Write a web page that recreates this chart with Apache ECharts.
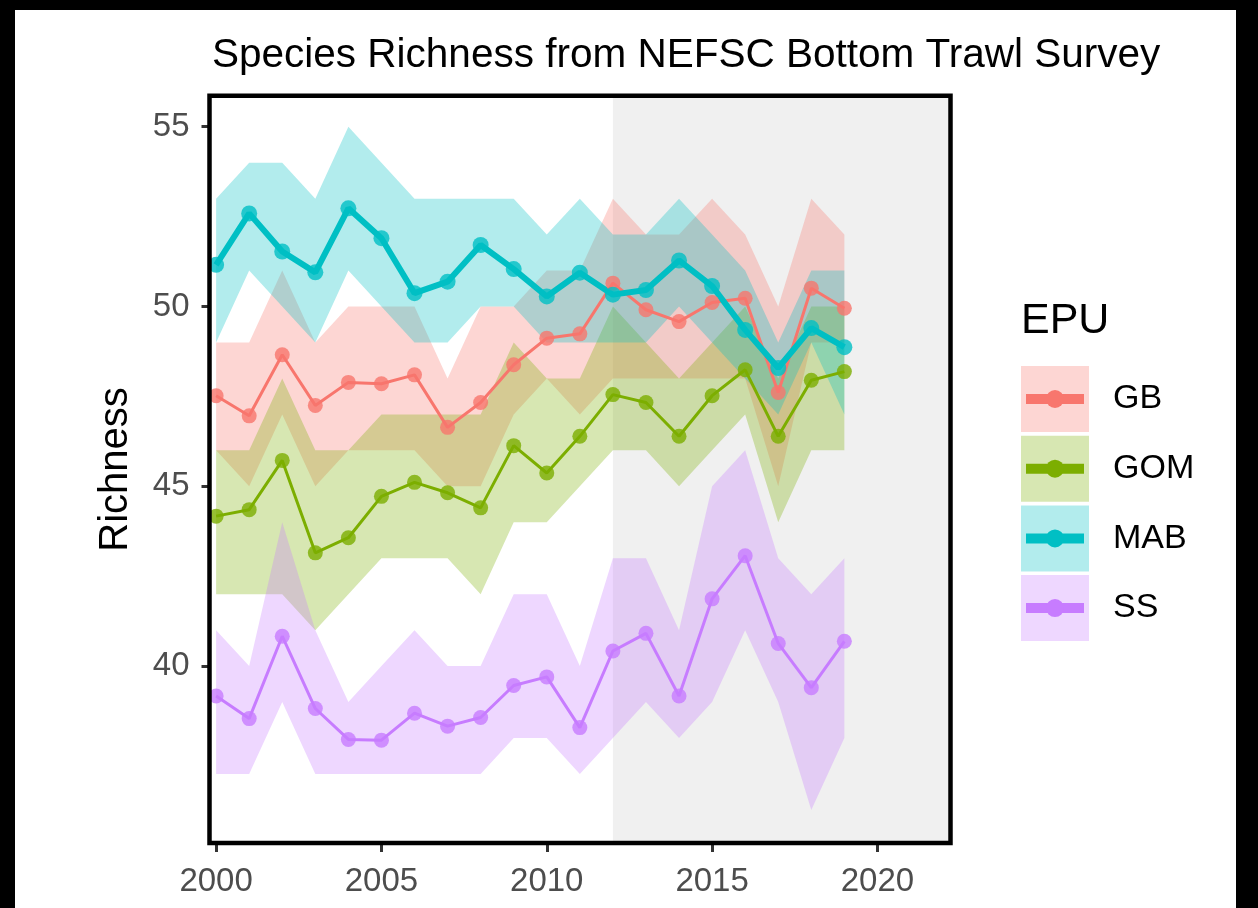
<!DOCTYPE html>
<html><head><meta charset="utf-8">
<script src="https://cdn.jsdelivr.net/npm/echarts@6.0.0/dist/echarts.min.js"></script>
<style>
html,body{margin:0;padding:0;background:#000;width:1258px;height:908px;overflow:hidden}
#c{position:absolute;left:15px;top:10px;width:1221px;height:898px;background:#fff}
</style></head><body><div id="c"></div>
<script>
// ---- data ----
const years = [2000,2001,2002,2003,2004,2005,2006,2007,2008,2009,2010,2011,2012,2013,2014,2015,2016,2017,2018,2019];
const epuNames = ['GB','GOM','MAB','SS'];
const GB_val  = [47.52,46.96,48.66,47.25,47.89,47.85,48.10,46.64,47.33,48.38,49.12,49.24,50.65,49.91,49.58,50.11,50.23,47.61,50.51,49.95];
const GB_lo   = [46,45,47,45,46,46,46,45,45,47,48,47,48,48,48,48,48,45,49,49];
const GB_hi   = [49,49,51,49,50,50,50,48,50,50,51,51,53,52,52,53,52,50,53,52];
const GOM_val = [44.17,44.35,45.72,43.15,43.57,44.72,45.11,44.82,44.40,46.13,45.37,46.39,47.55,47.33,46.39,47.52,48.24,46.39,47.95,48.19];
const GOM_lo  = [42,42,42,41,42,43,43,43,42,44,44,45,46,46,45,46,47,44,46,46];
const GOM_hi  = [46,46,48,46,46,47,47,47,47,49,48,48,50,49,48,49,50,48,50,50];
const MAB_val = [51.16,52.59,51.53,50.95,52.73,51.90,50.37,50.69,51.71,51.04,50.28,50.94,50.33,50.46,51.28,50.57,49.35,48.29,49.40,48.87];
const MAB_lo  = [49,51,50,49,51,50,49,49,50,50,49,49,49,49,50,49,48,47,49,47];
const MAB_hi  = [53,54,54,53,55,54,53,53,53,53,52,53,52,52,53,52,51,49,51,51];
const SS_val  = [39.17,38.54,40.83,38.82,37.96,37.94,38.69,38.33,38.57,39.46,39.70,38.29,40.42,40.91,39.17,41.87,43.07,40.63,39.40,40.69];
const SS_lo   = [37,37,39,37,37,37,37,37,37,38,38,37,38,39,38,39,41,39,36,38];
const SS_hi   = [41,40,44,41,39,40,41,40,40,42,42,40,43,43,41,45,46,43,42,43];
const xTicks = [2000,2005,2010,2015,2020];
const yTicks = [40,45,50,55];
const shadeStart = 2012;
const titleText = 'Species Richness from NEFSC Bottom Trawl Survey';
const yTitle = 'Richness';
const legendTitle = 'EPU';

// ---- styling ----
const vals = [GB_val, GOM_val, MAB_val, SS_val];
const los = [GB_lo, GOM_lo, MAB_lo, SS_lo];
const his = [GB_hi, GOM_hi, MAB_hi, SS_hi];
const colors = ['#F8766D','#7CAE00','#00BFC4','#C77CFF'];
const fills = ['rgba(248,118,109,0.3)','rgba(124,174,0,0.3)','rgba(0,191,196,0.3)','rgba(199,124,255,0.3)'];
const lineW = [3,3,6,3];
const symS = [15,15,16,15];
const FONT = '"Liberation Sans", Arial, Helvetica, sans-serif';
const XMIN = 1999.80, XMAX = 2022.21, YMIN = 35.08, YMAX = 55.86;

const series = [];
series.push({
  type:'line', data:[[shadeStart, YMIN]], z:1, silent:true, showSymbol:false,
  lineStyle:{opacity:0},
  markArea:{silent:true, itemStyle:{color:'#f0f0f0'}, data:[[{xAxis:shadeStart},{xAxis:XMAX}]]}
});
epuNames.forEach((n,k)=>{
  series.push({
    type:'custom', name:n+'_band', z:2, silent:true, clip:true,
    data: years.map((y,i)=>[y, los[k][i], his[k][i]]),
    encode:{x:0, y:[1,2]},
    renderItem(params, api){
      if (params.dataIndex !== 0) return null;
      const top = years.map((y,i)=>api.coord([y, his[k][i]]));
      const bot = years.map((y,i)=>api.coord([y, los[k][i]])).reverse();
      return {type:'polygon', shape:{points: top.concat(bot)}, style:{fill: fills[k]}};
    }
  });
});
epuNames.forEach((n,k)=>{
  series.push({
    type:'line', name:n, z:3, silent:true, showSymbol:false,
    data: years.map((y,i)=>[y, vals[k][i]]),
    lineStyle:{color:colors[k], width:lineW[k]}
  });
});
epuNames.forEach((n,k)=>{
  series.push({
    type:'scatter', name:n+'_pts', z:4, silent:true,
    data: years.map((y,i)=>[y, vals[k][i]]),
    symbol:'circle', symbolSize:symS[k],
    itemStyle:{color:colors[k]}
  });
});

// legend drawn as graphic
const graphics = [];
graphics.push({type:'text', left:1006, top:290, style:{text:legendTitle, font:'43px '+FONT, fill:'#000'}});
epuNames.forEach((n,k)=>{
  const top = 356 + k*69.7;
  graphics.push({type:'rect', shape:{x:1006, y:top, width:68, height:66}, style:{fill:fills[k]}});
  graphics.push({type:'line', shape:{x1:1011, y1:top+33, x2:1069, y2:top+33}, style:{stroke:colors[k], lineWidth:10}});
  graphics.push({type:'circle', shape:{cx:1040, cy:top+33, r:9}, style:{fill:colors[k]}});
  graphics.push({type:'text', x:1098, y:top+33, style:{text:n, font:'34px '+FONT, fill:'#000', verticalAlign:'middle', align:'left'}});
});

const chart = echarts.init(document.getElementById('c'), null, {renderer:'canvas'});
chart.setOption({
  animation:false,
  backgroundColor:'#fff',
  title:{text:titleText, left:192, top:20, textStyle:{fontSize:40.5, fontWeight:'normal', color:'#000', fontFamily:FONT}},
  grid:{left:194.5, right:285.5, top:85.8, bottom:65, show:true, z:10, borderColor:'#000', borderWidth:4.5, backgroundColor:'transparent'},
  xAxis:{type:'value', min:XMIN, max:XMAX,
    splitLine:{show:false}, axisLine:{show:false},
    axisTick:{show:true, length:9, customValues:xTicks, lineStyle:{color:'#333', width:3}},
    axisLabel:{customValues:xTicks, formatter:v=>String(v), color:'#4d4d4d', fontSize:33, fontFamily:FONT, margin:22}},
  yAxis:{type:'value', min:YMIN, max:YMAX,
    splitLine:{show:false}, axisLine:{show:false},
    axisTick:{show:true, length:8, customValues:yTicks, lineStyle:{color:'#333', width:3}},
    axisLabel:{customValues:yTicks, formatter:v=>String(v), color:'#4d4d4d', fontSize:33, fontFamily:FONT, margin:20},
    name:yTitle, nameLocation:'middle', nameRotate:90, nameGap:74,
    nameTextStyle:{fontSize:40, color:'#000', fontFamily:FONT}},
  graphic:graphics,
  series:series
});
</script></body></html>
